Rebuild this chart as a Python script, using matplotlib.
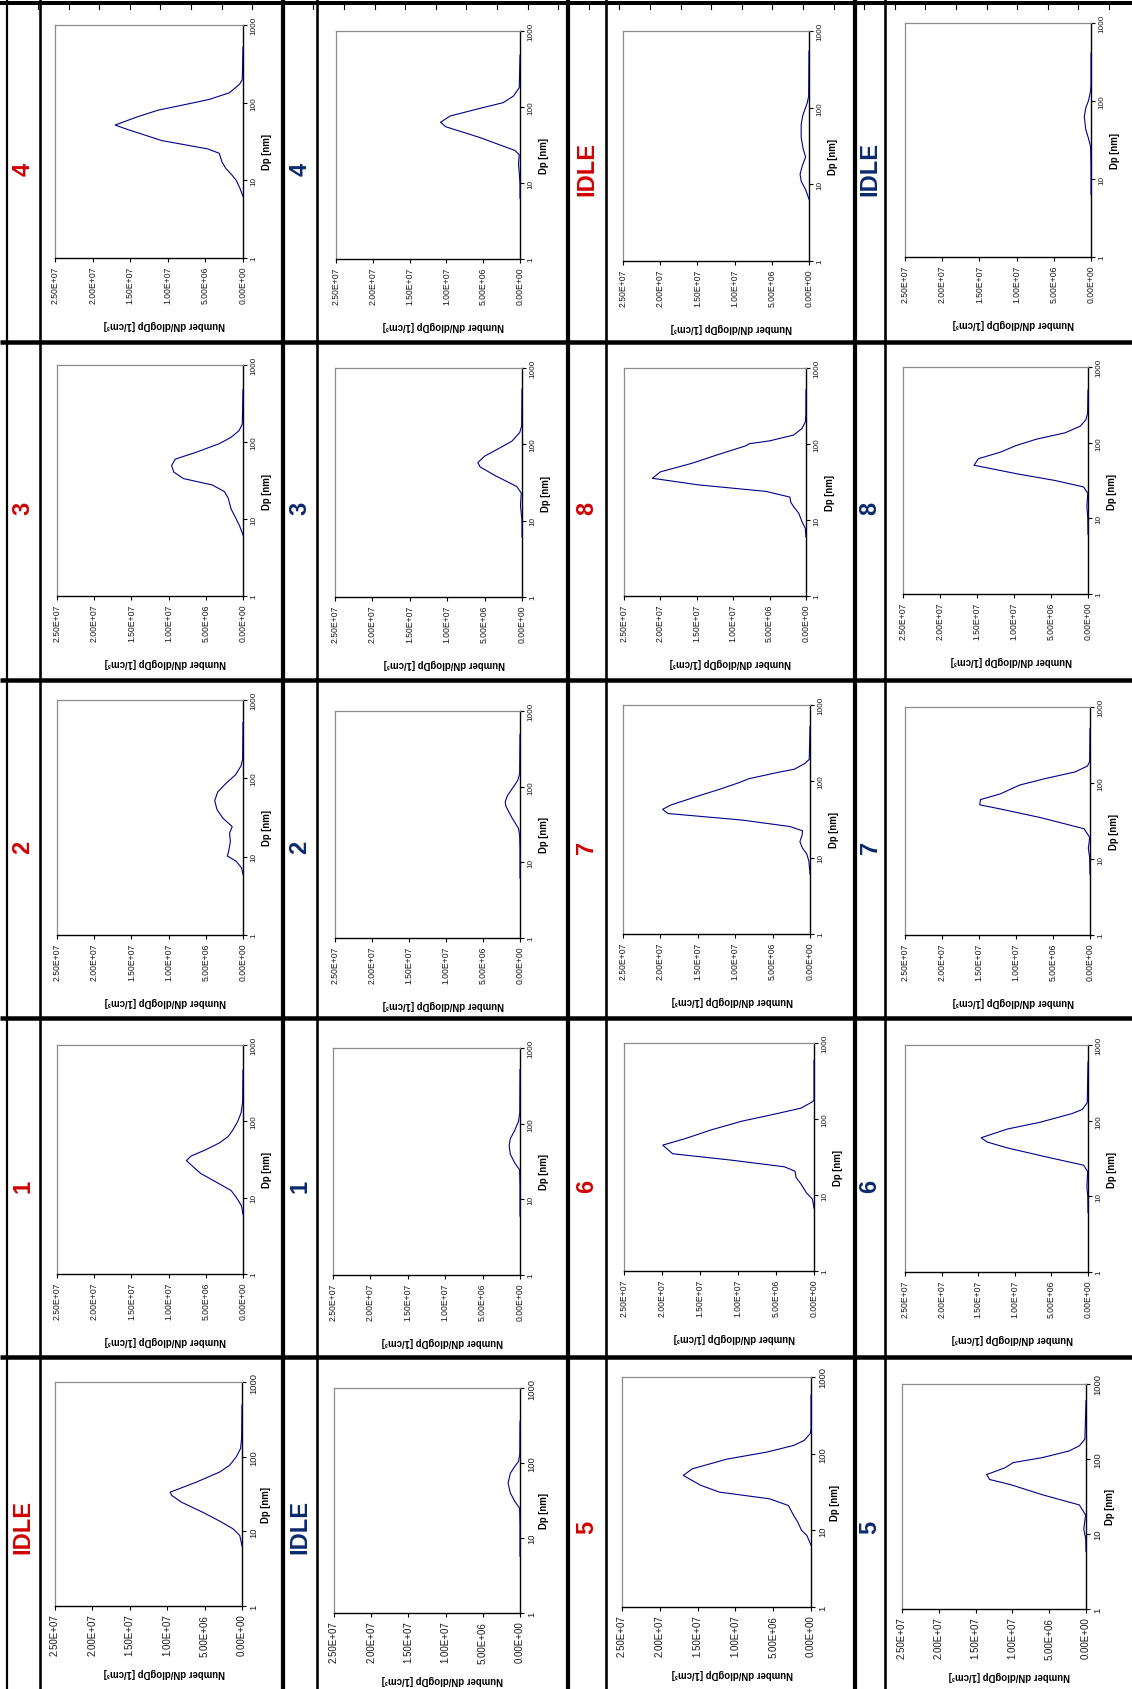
import numpy as np
import matplotlib
matplotlib.use('Agg')
import matplotlib.pyplot as plt
from matplotlib.lines import Line2D
from matplotlib.ticker import NullLocator

plt.rcParams['font.family'] = ['Liberation Sans', 'DejaVu Sans']

W, H = 1132, 1690

# ---------------- data (Dp in nm, number conc. in 1e6 /cm3) ----------------
dp_ticks = [1, 10, 100, 1000]
n_ticks = [0, 5e6, 1e7, 1.5e7, 2e7, 2.5e7]

red_labels = ['IDLE', '1', '2', '3', '4', '5', '6', '7', '8', 'IDLE']
blue_labels = ['IDLE', '1', '2', '3', '4', '5', '6', '7', '8', 'IDLE']

red_idle_a_dp = [6.4, 8.8, 10.8, 13.4, 17.9, 24.6, 30.3, 33.5, 35.3, 45.6, 62.2, 76.6, 100, 128, 175, 490]
red_idle_a_n = [0, 0.3, 1.2, 2.8, 5.2, 8.1, 9.4, 9.6, 9.0, 6.1, 3.0, 1.65, 0.75, 0.2, 0.05, 0]
red_1_dp = [6.05, 7.8, 10.1, 12.4, 16, 20.8, 27, 30.6, 35, 42.5, 52, 63, 76, 100, 130, 180, 470]
red_1_n = [0, 0.2, 0.9, 1.6, 3.6, 5.7, 7.0, 7.6, 7.0, 5.0, 3.2, 2.0, 1.4, 0.7, 0.25, 0.05, 0]
red_2_dp = [5.95, 7.2, 8.7, 10.2, 12.0, 15.5, 20, 24.2, 31, 40, 52, 67, 86, 111, 144, 175, 520]
red_2_n = [0, 0.2, 0.9, 2.1, 1.9, 1.7, 1.8, 1.45, 2.7, 3.5, 3.8, 3.4, 2.3, 1.0, 0.27, 0.05, 0]
red_3_dp = [6.2, 8.1, 10.4, 13.5, 18.8, 22.7, 27.6, 33.5, 40.7, 49.4, 60, 73, 95, 115, 140, 170, 480]
red_3_n = [0, 0.45, 1.0, 1.6, 2.0, 2.5, 4.1, 8.0, 9.3, 9.6, 9.1, 6.4, 3.2, 1.6, 0.55, 0.1, 0]
red_4_dp = [6.2, 8.1, 10, 11.8, 14.3, 17.3, 22.3, 25.4, 32.5, 45, 51.5, 66, 80, 100, 110, 134, 173, 197, 520]
red_4_n = [0, 0.45, 0.9, 1.5, 2.3, 2.8, 3.15, 4.7, 10.8, 15.3, 17.0, 14.0, 11.3, 6.5, 4.5, 1.8, 0.45, 0.1, 0]
red_5_dp = [6.4, 8.6, 10, 12.8, 15.7, 21.1, 25.8, 31.5, 38.7, 52, 63.5, 85, 105, 128, 149, 183, 210, 578]
red_5_n = [0, 0.55, 1.25, 1.75, 2.3, 3.0, 5.5, 12.1, 14.6, 16.9, 15.7, 11.1, 5.8, 2.3, 0.9, 0.1, 0, 0]
red_6_dp = [6.7, 8.8, 10.7, 13.9, 16.9, 20.6, 23.5, 28.7, 34.9, 45.3, 55, 72, 93.6, 114, 139, 170, 180, 590]
red_6_n = [0, 0.2, 1.0, 1.7, 2.35, 2.5, 3.9, 10.8, 18.6, 19.9, 17.0, 13.5, 9.5, 5.5, 1.7, 0.15, 0, 0]
red_7_dp = [6.1, 9.0, 11.3, 13.3, 16.2, 19.8, 22.5, 25.6, 31.1, 37.9, 43, 49, 64, 78, 96, 108, 131, 144, 171, 194, 520]
red_7_n = [0, 0.15, 0.45, 1.0, 1.35, 1.05, 1.0, 2.7, 9.1, 19.0, 19.7, 18.6, 15.0, 12.2, 9.5, 8.2, 4.3, 2.1, 0.7, 0.1, 0]
red_8_dp = [6.0, 7.8, 9.5, 12.3, 15, 17.2, 20, 23.8, 29, 35.4, 43, 56, 73, 94.4, 100.8, 110, 131, 160, 194, 236, 520]
red_8_n = [0, 0.1, 0.55, 1.0, 1.7, 2.1, 2.2, 5.5, 14.8, 21.1, 20.0, 15.6, 12.0, 8.3, 7.8, 5.0, 1.7, 0.56, 0.1, 0.02, 0]
red_idle_b_dp = [6.4, 8.5, 11, 13.5, 17.5, 22.7, 29.5, 41, 60, 78, 95, 116, 141, 550]
red_idle_b_n = [0, 0.45, 1.05, 1.2, 0.9, 0.45, 0.8, 1.05, 1.05, 0.85, 0.55, 0.23, 0.05, 0]

blue_idle_a_dp = [5.7, 15, 25, 30.8, 39.8, 54, 73, 90, 105, 130, 360]
blue_idle_a_n = [0, 0, 0.05, 0.7, 1.3, 1.6, 1.3, 0.7, 0.2, 0.03, 0]
blue_1_dp = [6.0, 15, 24.5, 30.3, 39.5, 51.5, 63, 82, 107, 140, 520]
blue_1_n = [0, 0, 0.05, 0.7, 1.3, 1.45, 1.3, 0.7, 0.2, 0.03, 0]
blue_2_dp = [6.2, 15, 23, 28, 39, 55, 63, 76, 99, 121, 147, 490]
blue_2_n = [0, 0, 0.05, 0.2, 1.1, 1.9, 2.0, 1.7, 0.9, 0.3, 0.05, 0]
blue_3_dp = [6.2, 10, 15.6, 23, 28, 39, 50.6, 57.6, 70, 85, 110, 143, 174, 530]
blue_3_n = [0, 0, 0.2, 0.1, 0.7, 3.6, 5.6, 5.9, 5.0, 3.4, 1.35, 0.3, 0.05, 0]
blue_4_dp = [6.3, 10, 18, 23.6, 26.8, 39.8, 55, 63, 76, 93, 114, 139, 180, 480]
blue_4_n = [0, 0, 0.2, 0.1, 0.7, 5.5, 10.1, 10.8, 9.5, 6.0, 2.3, 0.9, 0.1, 0]
blue_5_dp = [5.8, 8.5, 11.7, 17.9, 24.4, 33.3, 45.4, 53.3, 62, 76.5, 89.5, 104.5, 128, 150, 184, 600]
blue_5_n = [0, 0.03, 0.3, 0.05, 0.9, 5.9, 10.2, 13.1, 13.5, 11.0, 9.9, 5.9, 2.3, 0.9, 0.15, 0]
blue_6_dp = [6.1, 10, 13.4, 18, 21.2, 25.8, 33.5, 43.6, 52.3, 59.5, 77.6, 95, 124, 140, 173, 600]
blue_6_n = [0, 0.03, 0.15, 0.08, 0.05, 0.6, 5.9, 11.0, 13.8, 14.6, 11.0, 6.6, 2.2, 0.8, 0.1, 0]
blue_7_dp = [6.3, 10.5, 13.9, 17, 19.3, 25, 34.9, 45.5, 51.6, 60.5, 72, 94, 114, 140, 167, 191, 520]
blue_7_n = [0, 0.05, 0.23, 0.1, 0.05, 0.8, 6.6, 12.1, 14.9, 14.8, 12.1, 9.5, 6.1, 2.0, 0.35, 0.05, 0]
blue_8_dp = [6.15, 10, 14.5, 18, 21.5, 26, 31.7, 38.6, 50.3, 61.5, 75, 91, 111, 135, 165, 200, 243, 500]
blue_8_n = [0, 0.03, 0.15, 0.08, 0.03, 0.6, 4.5, 9.5, 15.4, 14.8, 11.8, 9.8, 7.0, 3.1, 1.05, 0.3, 0.05, 0]
blue_idle_b_dp = [6.3, 15, 26, 33.5, 43, 63, 82, 100, 128, 156, 410]
blue_idle_b_n = [0, 0, 0.05, 0.35, 0.7, 0.9, 0.7, 0.35, 0.1, 0, 0]

red_dp = [red_idle_a_dp, red_1_dp, red_2_dp, red_3_dp, red_4_dp,
          red_5_dp, red_6_dp, red_7_dp, red_8_dp, red_idle_b_dp]
red_n = [red_idle_a_n, red_1_n, red_2_n, red_3_n, red_4_n,
         red_5_n, red_6_n, red_7_n, red_8_n, red_idle_b_n]
blue_dp = [blue_idle_a_dp, blue_1_dp, blue_2_dp, blue_3_dp, blue_4_dp,
           blue_5_dp, blue_6_dp, blue_7_dp, blue_8_dp, blue_idle_b_dp]
blue_n = [blue_idle_a_n, blue_1_n, blue_2_n, blue_3_n, blue_4_n,
          blue_5_n, blue_6_n, blue_7_n, blue_8_n, blue_idle_b_n]

# ---------------- layout (pixels) ----------------
boxes = {
    (0, 0): (55, 243, 26, 259), (0, 1): (336, 520, 32, 260), (0, 2): (623, 809, 32, 262), (0, 3): (905, 1091, 24, 258),
    (1, 0): (57, 243, 366, 597), (1, 1): (335, 522, 369, 598), (1, 2): (624, 806, 369, 597), (1, 3): (903, 1088, 368, 595),
    (2, 0): (57, 243, 701, 936), (2, 1): (335, 520, 712, 939), (2, 2): (623, 810, 706, 935), (2, 3): (905, 1090, 708, 936),
    (3, 0): (57, 243, 1046, 1275), (3, 1): (333, 520, 1049, 1276), (3, 2): (624, 814, 1044, 1272), (3, 3): (905, 1088, 1046, 1273),
    (4, 0): (55, 242, 1383, 1607), (4, 1): (334, 520, 1389, 1614), (4, 2): (622, 811, 1378, 1608), (4, 3): (902, 1086, 1385, 1610),
}
label_x = [23, 300, 587, 870]
label_y = [169, 508, 847, 1186, 1527]
RED = '#D00000'
BLUE = '#0B2A6E'
LINE = '#00008B'

fig = plt.figure(figsize=(W / 100, H / 100), dpi=100)
fig.patch.set_facecolor('white')


def panel(row, col, dp, n, label, lcolor):
    l, r, t, b = boxes[(row, col)]
    w, h = r - l, b - t
    ax = fig.add_axes([l / W, 1 - b / H, w / W, h / H])
    ax.plot(np.array(n) * 1e6, dp, color=LINE, lw=0.8, zorder=3, clip_on=False)
    ax.set_yscale('log')
    ax.set_ylim(1, 1000)
    ax.set_xlim(2.5e7, 0)
    for s in ('left', 'top'):
        ax.spines[s].set_color('#8c8c8c')
        ax.spines[s].set_linewidth(0.9)
    for s in ('right', 'bottom'):
        ax.spines[s].set_color('black')
        ax.spines[s].set_linewidth(1.0)
    big = row == 4
    xs = 7.0 if big else 6.2
    ys = 6.7 if big else 5.9
    ax.yaxis.tick_right()
    ax.yaxis.set_minor_locator(NullLocator())
    ax.xaxis.set_minor_locator(NullLocator())
    ax.set_yticks(dp_ticks)
    ax.set_yticklabels([str(v) for v in dp_ticks])
    ax.set_xticks(n_ticks)
    ax.set_xticklabels([f'{v:.2E}' for v in n_ticks])
    ax.tick_params(axis='y', which='major', direction='out', length=3, width=0.8,
                   pad=2.5, labelsize=ys, labelrotation=90, labelcolor='#1a1a1a')
    ax.tick_params(axis='x', which='major', direction='out', length=3, width=0.8,
                   pad=2.5, labelsize=xs, labelrotation=90, labelcolor='#1a1a1a')
    for lab in ax.get_yticklabels():
        lab.set_va('center')
    ax.set_xlabel('Number dN/dlogDp [1/cm³]', fontsize=6.9, fontweight='bold', rotation=180)
    ax.xaxis.set_label_coords(0.5 + 15.5 / w, -61 / h)
    ax.yaxis.set_label_position('right')
    ax.set_ylabel('Dp [nm]', fontsize=6.9, fontweight='bold')
    ax.yaxis.set_label_coords(1 + 19 / w, 0.5 - 10 / h)
    fig.text(label_x[col] / W, 1 - label_y[row] / H, label, rotation=90,
             ha='center', va='center', fontsize=17, fontweight='bold', color=lcolor)


for k in range(10):
    if k < 5:
        row = 4 - k
        cr, cb = 0, 1
    else:
        row = 4 - (k - 5)
        cr, cb = 2, 3
    panel(row, cr, red_dp[k], red_n[k], red_labels[k], RED)
    panel(row, cb, blue_dp[k], blue_n[k], blue_labels[k], BLUE)


def vline(x, lw_px):
    fig.add_artist(Line2D([x / W, x / W], [0, 1], transform=fig.transFigure,
                          color='black', lw=lw_px * 0.72, solid_capstyle='butt'))


def hline(y, lw_px):
    fig.add_artist(Line2D([0, 1], [1 - y / H, 1 - y / H], transform=fig.transFigure,
                          color='black', lw=lw_px * 0.72, solid_capstyle='butt'))


vline(7, 2.2)
for x in (283, 568, 855):
    vline(x, 4.2)
for x in (40, 317, 606, 885):
    vline(x, 2.6)
hline(4, 4.0)
for y in (343, 681, 1019, 1358):
    hline(y, 4.5)
for x in np.arange(38, W, 30.6):
    fig.add_artist(Line2D([x / W, x / W], [1 - 4 / H, 1 - 10 / H], transform=fig.transFigure,
                          color='black', lw=0.8))

fig.savefig('out.png', dpi=100, facecolor='white')
